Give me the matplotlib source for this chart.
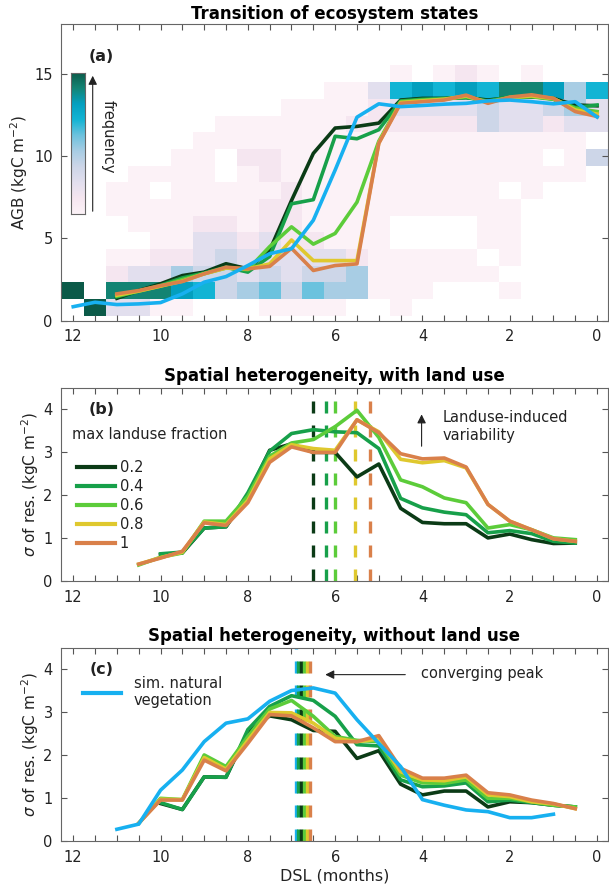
import numpy as np
import matplotlib
matplotlib.use('Agg')
import matplotlib.pyplot as plt
from matplotlib.colors import LinearSegmentedColormap
from matplotlib.lines import Line2D

plt.rcParams['font.family'] = ['DejaVu Sans']

# ---------------- data ----------------
fractions = ['0.2', '0.4', '0.6', '0.8', '1']
lu_colors = ['#0b3b16', '#17a04a', '#5ccc3a', '#dfc82e', '#d9804a']
nat_color = '#17b0f0'

# panel (a): AGB
dsl_a_nat = [12, 11.5, 11, 10.5, 10, 9.5, 9, 8.5, 8, 7.5, 7, 6.5, 6, 5.5, 5, 4.5, 4, 3.5, 3, 2.5, 2, 1.5, 1, 0.5, 0]
agb_nat = [0.85, 1.12, 0.98, 1.02, 1.1, 1.63, 2.34, 2.68, 3.35, 4.07, 4.37, 6.1, 9.15, 12.36, 13.17,
           13.0, 13.07, 13.15, 13.2, 13.35, 13.4, 13.3, 13.17, 13.3, 12.37]
dsl_a_lu = [11, 10.5, 10, 9.5, 9, 8.5, 8, 7.5, 7, 6.5, 6, 5.5, 5, 4.5, 4, 3.5, 3, 2.5, 2, 1.5, 1, 0.5, 0]
agb_f02 = [1.36, 1.83, 2.24, 2.74, 2.95, 3.46, 3.15, 4.27, 7.3, 10.16, 11.7, 11.8, 12.0,
           13.4, 13.5, 13.5, 13.55, 13.4, 13.55, 13.6, 13.5, 13.1, 13.05]
agb_f04 = [1.45, 1.8, 2.15, 2.6, 2.9, 3.25, 2.95, 3.9, 7.1, 7.35, 11.2, 11.05, 11.6,
           13.35, 13.45, 13.5, 13.55, 13.35, 13.6, 13.65, 13.45, 12.95, 13.1]
agb_f06 = [1.5, 1.8, 2.1, 2.5, 2.85, 3.2, 3.1, 4.5, 5.7, 4.65, 5.3, 7.2, 10.9,
           13.3, 13.4, 13.45, 13.6, 13.3, 13.55, 13.6, 13.45, 12.9, 12.7]
agb_f08 = [1.55, 1.8, 2.1, 2.4, 2.85, 3.2, 3.15, 3.45, 4.9, 3.65, 3.65, 3.65, 10.8,
           13.25, 13.35, 13.45, 13.65, 13.25, 13.55, 13.65, 13.5, 12.8, 12.55]
agb_f10 = [1.63, 1.83, 2.13, 2.38, 2.85, 3.25, 3.15, 3.3, 4.4, 3.05, 3.35, 3.45, 10.77,
           13.2, 13.3, 13.4, 13.7, 13.2, 13.58, 13.72, 13.5, 12.7, 12.4]

# 2-D frequency levels (rows: AGB bins from top ~15 down to ~1; columns: DSL 12 -> 0 step 0.5)
freq_levels = [
    [0, 0, 0, 0, 0, 0, 0, 0, 0, 0, 0, 0, 0, 0, 0, 1, 0, 1, 2, 1, 0, 1, 0, 0, 0],
    [0, 0, 0, 0, 0, 0, 0, 0, 0, 0, 0, 0, 1, 1, 3, 7, 8, 7, 8, 7, 9, 9, 8, 5, 7],
    [0, 0, 0, 0, 0, 0, 0, 0, 0, 0, 1, 1, 1, 1, 2, 3, 3, 3, 3, 4, 3, 3, 4, 5, 3],
    [0, 0, 0, 0, 0, 0, 0, 1, 1, 1, 1, 1, 1, 2, 2, 2, 2, 2, 2, 4, 3, 3, 2, 3, 3],
    [0, 0, 0, 0, 0, 0, 1, 1, 1, 1, 1, 1, 1, 1, 1, 1, 1, 1, 1, 1, 1, 1, 1, 1, 0],
    [0, 0, 0, 0, 0, 1, 1, 0, 2, 2, 1, 1, 1, 1, 1, 1, 1, 1, 1, 1, 1, 1, 0, 1, 4],
    [0, 0, 0, 1, 1, 1, 1, 0, 1, 2, 1, 1, 1, 1, 1, 1, 1, 1, 1, 1, 1, 1, 1, 1, 0],
    [0, 0, 1, 1, 0, 1, 1, 1, 1, 1, 2, 1, 1, 1, 1, 1, 1, 1, 1, 1, 0, 1, 0, 0, 0],
    [0, 0, 1, 1, 1, 1, 1, 1, 1, 2, 2, 1, 1, 1, 1, 1, 1, 1, 1, 1, 1, 0, 0, 0, 0],
    [0, 0, 0, 1, 1, 1, 2, 2, 1, 2, 2, 1, 1, 1, 1, 0, 0, 0, 0, 1, 1, 0, 0, 0, 0],
    [0, 0, 0, 0, 1, 1, 3, 3, 2, 3, 2, 2, 1, 1, 1, 0, 0, 0, 0, 1, 1, 0, 0, 0, 0],
    [0, 0, 1, 1, 2, 2, 3, 4, 3, 3, 3, 3, 3, 2, 1, 1, 1, 1, 1, 0, 1, 0, 0, 0, 0],
    [0, 0, 2, 3, 3, 5, 4, 4, 3, 4, 3, 4, 4, 5, 1, 1, 1, 1, 1, 1, 0, 0, 0, 0, 0],
    [10, 0, 9, 9, 9, 8, 7, 4, 5, 6, 4, 6, 5, 5, 1, 1, 1, 0, 0, 0, 1, 0, 0, 0, 0],
    [0, 10, 3, 3, 1, 1, 0, 0, 0, 1, 1, 1, 1, 0, 0, 1, 0, 0, 0, 0, 0, 0, 0, 0, 0],
]
agb_bin_low, agb_bin_high = 0.3, 15.5

# panel (b): with land use
dsl_b = [10.5, 10, 9.5, 9, 8.5, 8, 7.5, 7, 6.5, 6, 5.5, 5, 4.5, 4, 3.5, 3, 2.5, 2, 1.5, 1, 0.5]
sd_b_f02 = [np.nan, 0.62, 0.66, 1.24, 1.27, 2.0, 3.05, 3.2, 3.0, 3.0, 2.43, 2.73, 1.70, 1.37, 1.34, 1.34, 1.01, 1.10, 0.97, 0.88, 0.89]
sd_b_f04 = [np.nan, 0.64, 0.68, 1.24, 1.27, 2.06, 3.03, 3.44, 3.53, 3.48, 3.46, 3.09, 1.93, 1.71, 1.61, 1.55, 1.13, 1.18, 1.11, 0.93, 0.89]
sd_b_f06 = [0.38, 0.56, 0.66, 1.40, 1.40, 1.98, 2.91, 3.22, 3.30, 3.60, 3.98, 3.35, 2.36, 2.2, 1.94, 1.83, 1.24, 1.32, 1.2, 1.01, 0.97]
sd_b_f08 = [0.40, 0.55, 0.68, 1.38, 1.32, 1.88, 2.85, 3.18, 3.09, 3.05, 3.76, 3.48, 2.84, 2.76, 2.81, 2.64, 1.79, 1.40, 1.20, 0.99, 0.93]
sd_b_f10 = [0.40, 0.54, 0.70, 1.36, 1.30, 1.83, 2.77, 3.13, 3.0, 3.0, 3.76, 3.46, 2.97, 2.85, 2.87, 2.66, 1.79, 1.40, 1.20, 0.99, 0.93]
peak_b = [6.5, 6.2, 6.0, 5.55, 5.2]

# panel (c): without land use
dsl_c_nat = [11, 10.5, 10, 9.5, 9, 8.5, 8, 7.5, 7, 6.5, 6, 5.5, 5, 4.5, 4, 3.5, 3, 2.5, 2, 1.5, 1]
sd_c_nat = [0.28, 0.40, 1.19, 1.66, 2.32, 2.75, 2.85, 3.26, 3.51, 3.57, 3.45, 2.83, 2.28, 1.74, 0.97, 0.84, 0.73, 0.69, 0.55, 0.55, 0.63]
dsl_c = [10.5, 10, 9.5, 9, 8.5, 8, 7.5, 7, 6.5, 6, 5.5, 5, 4.5, 4, 3.5, 3, 2.5, 2, 1.5, 1, 0.5]
sd_c_f02 = [np.nan, 0.88, 0.74, 1.50, 1.49, 2.55, 2.92, 2.83, 2.58, 2.56, 1.93, 2.11, 1.33, 1.08, 1.17, 1.17, 0.80, 0.92, 0.90, 0.84, 0.80]
sd_c_f04 = [np.nan, 0.90, 0.74, 1.50, 1.49, 2.60, 3.14, 3.39, 3.28, 2.91, 2.25, 2.22, 1.43, 1.27, 1.29, 1.36, 0.92, 0.96, 0.90, 0.84, 0.80]
sd_c_f06 = [0.42, 1.0, 0.97, 2.01, 1.74, 2.44, 3.08, 3.28, 2.91, 2.44, 2.35, 2.32, 1.54, 1.36, 1.35, 1.43, 1.0, 1.0, 0.92, 0.84, 0.80]
sd_c_f08 = [0.42, 0.98, 0.97, 1.95, 1.68, 2.35, 3.0, 2.99, 2.75, 2.4, 2.32, 2.38, 1.62, 1.43, 1.41, 1.50, 1.08, 1.04, 0.92, 0.87, 0.76]
sd_c_f10 = [0.42, 0.96, 0.96, 1.89, 1.64, 2.28, 2.95, 2.92, 2.64, 2.32, 2.32, 2.46, 1.70, 1.47, 1.47, 1.54, 1.13, 1.08, 0.96, 0.88, 0.76]
peak_c = [6.78, 6.85, 6.72, 6.65, 6.57]
peak_c_nat = 6.9

# ---------------- figure ----------------
W, H = 609, 892
fig = plt.figure(figsize=(W / 100, H / 100), dpi=100)

def rect(l, t, r, b):
    return [l / W, 1 - b / H, (r - l) / W, (b - t) / H]

ax_a = fig.add_axes(rect(61, 24.3, 608, 320.7))
ax_b = fig.add_axes(rect(61, 388, 608, 581.3))
ax_c = fig.add_axes(rect(61, 648, 608, 841.3))

LW = 2.6
TXT = '#222222'
TITLE_FS = 12

def style(ax, yticks, ylim):
    ax.set_xlim(12.28, -0.25)
    ax.set_ylim(*ylim)
    ax.set_xticks([12, 10, 8, 6, 4, 2, 0])
    ax.set_xticks(np.arange(0, 12.01, 0.5), minor=True)
    ax.set_yticks(yticks)
    ax.tick_params(which='both', direction='in', top=True, right=True, length=4.5,
                   width=0.8, color='#555555', labelsize=10.5, labelcolor=TXT, pad=6)
    for s in ax.spines.values():
        s.set_color('#666666')
        s.set_linewidth(0.8)

# colormap
cmap = LinearSegmentedColormap.from_list('freq', [
    '#fcf2f7', '#f5e6f0', '#e2dfee', '#cdd6e8', '#a8cde4',
    '#6cc2de', '#12b4d4', '#04a0c0', '#138474', '#0b5a48'])

# ---- panel a ----
lev = np.array(freq_levels, dtype=float)[::-1]
nrow, ncol = lev.shape
x_centers = np.array(dsl_a_nat, dtype=float)
x_edges = np.concatenate([x_centers + 0.25, [x_centers[-1] - 0.25]])
y_edges = np.linspace(agb_bin_low, agb_bin_high, nrow + 1)
ax_a.pcolormesh(x_edges, y_edges, np.ma.masked_equal(lev, 0), cmap=cmap, vmin=1, vmax=10,
                shading='flat', zorder=1)

agb_series = [agb_f02, agb_f04, agb_f06, agb_f08, agb_f10]
for ys, c in zip(agb_series, lu_colors):
    ax_a.plot(dsl_a_lu, ys, color=c, lw=LW, zorder=3, solid_joinstyle='round')
ax_a.plot(dsl_a_nat, agb_nat, color=nat_color, lw=LW, zorder=4)
style(ax_a, [0, 5, 10, 15], (0, 18))
ax_a.set_ylabel('AGB (kgC m$^{-2}$)', fontsize=11, color=TXT, labelpad=3)
ax_a.set_title('Transition of ecosystem states', fontsize=TITLE_FS, fontweight='bold', pad=4)
ax_a.text(0.074, 0.893, '(a)', transform=ax_a.transAxes, ha='center', va='center',
          fontsize=11.5, fontweight='bold', color=TXT)

# colorbar-like inset
ax_cb = fig.add_axes(rect(70.7, 72.7, 85, 214))
ax_cb.imshow(np.linspace(0, 1, 256)[:, None], aspect='auto', origin='lower', cmap=cmap,
             extent=(0, 1, 0, 1))
ax_cb.set_xticks([])
ax_cb.set_yticks([])
for s in ax_cb.spines.values():
    s.set_color('#666666')
    s.set_linewidth(0.8)
fig.add_artist(matplotlib.patches.FancyArrowPatch(
    (92.7 / W, 1 - 214 / H), (92.7 / W, 1 - 73 / H), transform=fig.transFigure,
    arrowstyle='-|>', mutation_scale=13, color='#222222', lw=0.8))
fig.text(108 / W, 1 - 137 / H, 'frequency', rotation=270, ha='center', va='center',
         fontsize=10.5, color=TXT)

# ---- panel b ----
sd_b = [sd_b_f02, sd_b_f04, sd_b_f06, sd_b_f08, sd_b_f10]
for ys, c, f in zip(sd_b, lu_colors, fractions):
    ax_b.plot(dsl_b, ys, color=c, lw=LW, zorder=3, label=f)
for xp, c in zip(peak_b, lu_colors):
    ax_b.plot([xp, xp], [0, 4.3], color=c, lw=2.4, ls=(0, (3.6, 3.6)), zorder=2)
style(ax_b, [0, 1, 2, 3, 4], (0, 4.5))
ax_b.set_ylabel(r'$\sigma$ of res. (kgC m$^{-2}$)', fontsize=11, color=TXT, labelpad=2)
ax_b.set_title('Spatial heterogeneity, with land use', fontsize=TITLE_FS, fontweight='bold', pad=5)
ax_b.text(0.074, 0.891, '(b)', transform=ax_b.transAxes, ha='center', va='center',
          fontsize=11.5, fontweight='bold', color=TXT)
ax_b.text(0.020, 0.762, 'max landuse fraction', transform=ax_b.transAxes, ha='left',
          va='center', fontsize=10.5, color=TXT)
leg_handles = [Line2D([], [], color=c, lw=3) for c in lu_colors]
ax_b.legend(leg_handles, fractions, loc='upper left', bbox_to_anchor=(0.03, 0.625),
            frameon=False, fontsize=10.5, handlelength=2.6, handletextpad=0.3,
            labelspacing=0.26, borderpad=0, borderaxespad=0, labelcolor=TXT)
ax_b.annotate('', xy=(4.02, 3.95), xytext=(4.02, 3.08),
              arrowprops=dict(arrowstyle='-|>', color='#222222', lw=0.8, mutation_scale=13))
ax_b.text(0.698, 0.80, 'Landuse-induced\nvariability', transform=ax_b.transAxes,
          ha='left', va='center', fontsize=10.5, color=TXT, linespacing=1.25)

# ---- panel c ----
sd_c = [sd_c_f02, sd_c_f04, sd_c_f06, sd_c_f08, sd_c_f10]
for ys, c in zip(sd_c, lu_colors):
    ax_c.plot(dsl_c, ys, color=c, lw=LW, zorder=3)
ax_c.plot(dsl_c_nat, sd_c_nat, color=nat_color, lw=LW, zorder=4)
order = [1, 0, 2, 3, 4]
ax_c.plot([peak_c_nat, peak_c_nat], [0, 4.5], color=nat_color, lw=2.4,
          ls=(0, (3.6, 3.6)), zorder=2)
for i in order:
    ax_c.plot([peak_c[i], peak_c[i]], [0, 4.3], color=lu_colors[i], lw=2.4,
              ls=(0, (3.6, 3.6)), zorder=2)
style(ax_c, [0, 1, 2, 3, 4], (0, 4.5))
ax_c.set_ylabel(r'$\sigma$ of res. (kgC m$^{-2}$)', fontsize=11, color=TXT, labelpad=2)
ax_c.set_xlabel('DSL (months)', fontsize=11.5, color=TXT, labelpad=3)
ax_c.set_title('Spatial heterogeneity, without land use', fontsize=TITLE_FS, fontweight='bold', pad=5)
ax_c.text(0.074, 0.891, '(c)', transform=ax_c.transAxes, ha='center', va='center',
          fontsize=11.5, fontweight='bold', color=TXT)
ax_c.legend([Line2D([], [], color=nat_color, lw=3)], ['sim. natural\nvegetation'],
            loc='center left', bbox_to_anchor=(0.04, 0.773), frameon=False, fontsize=10.5,
            handlelength=2.6, handletextpad=0.9, borderpad=0, borderaxespad=0, labelcolor=TXT)
ax_c.annotate('', xy=(6.29, 3.88), xytext=(4.33, 3.88),
              arrowprops=dict(arrowstyle='-|>', color='#222222', lw=0.8, mutation_scale=13))
ax_c.text(0.658, 0.869, 'converging peak', transform=ax_c.transAxes, ha='left',
          va='center', fontsize=10.5, color=TXT)

fig.savefig('out.png', dpi=100)
